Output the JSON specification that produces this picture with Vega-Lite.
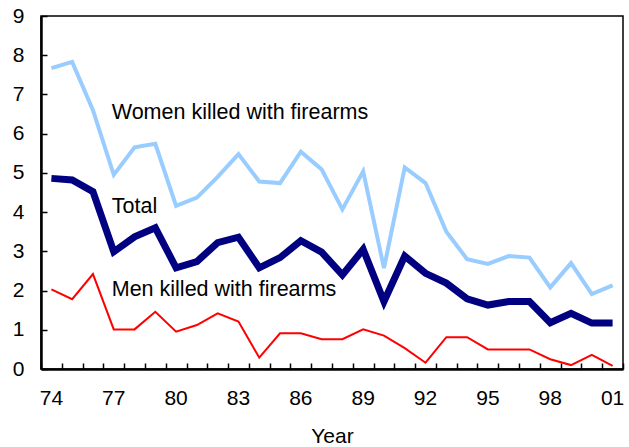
{
  "$schema": "https://vega.github.io/schema/vega-lite/v6.json",
  "autosize": "none",
  "width": 582,
  "height": 353,
  "padding": {"left": 41, "top": 16, "right": 6, "bottom": 78},
  "background": "white",
  "config": {
    "font": "Liberation Sans",
    "view": {"stroke": "black", "strokeWidth": 1.5},
    "axis": {"grid": false, "labelFont": "Liberation Sans", "titleFont": "Liberation Sans", "labelColor": "black", "titleColor": "black", "domainColor": "black", "tickColor": "black", "labelFontSize": 21, "titleFontSize": 21, "titleFontWeight": "normal"}
  },
  "datasets": {
    "lines": [
      {"year": 1974, "women": 7.67, "total": 4.86, "men": 2.03},
      {"year": 1975, "women": 7.83, "total": 4.82, "men": 1.78},
      {"year": 1976, "women": 6.6, "total": 4.52, "men": 2.42},
      {"year": 1977, "women": 4.95, "total": 2.99, "men": 1.01},
      {"year": 1978, "women": 5.65, "total": 3.37, "men": 1.01},
      {"year": 1979, "women": 5.74, "total": 3.6, "men": 1.46},
      {"year": 1980, "women": 4.16, "total": 2.58, "men": 0.95},
      {"year": 1981, "women": 4.37, "total": 2.74, "men": 1.12},
      {"year": 1982, "women": 4.9, "total": 3.22, "men": 1.42},
      {"year": 1983, "women": 5.48, "total": 3.36, "men": 1.21},
      {"year": 1984, "women": 4.78, "total": 2.58, "men": 0.29},
      {"year": 1985, "women": 4.74, "total": 2.84, "men": 0.91},
      {"year": 1986, "women": 5.54, "total": 3.27, "men": 0.91},
      {"year": 1987, "women": 5.09, "total": 2.98, "men": 0.76},
      {"year": 1988, "women": 4.07, "total": 2.4, "men": 0.76},
      {"year": 1989, "women": 5.04, "total": 3.05, "men": 1.01},
      {"year": 1990, "women": 2.57, "total": 1.72, "men": 0.85},
      {"year": 1991, "women": 5.14, "total": 2.88, "men": 0.53},
      {"year": 1992, "women": 4.74, "total": 2.44, "men": 0.16},
      {"year": 1993, "women": 3.5, "total": 2.19, "men": 0.81},
      {"year": 1994, "women": 2.8, "total": 1.79, "men": 0.81},
      {"year": 1995, "women": 2.68, "total": 1.63, "men": 0.5},
      {"year": 1996, "women": 2.88, "total": 1.72, "men": 0.5},
      {"year": 1997, "women": 2.84, "total": 1.72, "men": 0.5},
      {"year": 1998, "women": 2.08, "total": 1.18, "men": 0.25},
      {"year": 1999, "women": 2.7, "total": 1.42, "men": 0.1},
      {"year": 2000, "women": 1.91, "total": 1.17, "men": 0.36},
      {"year": 2001, "women": 2.13, "total": 1.17, "men": 0.08}
    ],
    "labels": [
      {"year": 1977, "v": 6.53, "text": "Women killed with firearms"},
      {"year": 1977, "v": 4.13, "text": "Total"},
      {"year": 1977, "v": 2.02, "text": "Men killed with firearms"}
    ]
  },
  "resolve": {"axis": {"x": "independent", "y": "independent"}},
  "layer": [
    {
      "data": {"name": "lines"},
      "mark": {"type": "line", "color": "#99CCFF", "strokeWidth": 4},
      "encoding": {
        "x": {
          "field": "year", "type": "ordinal",
          "scale": {"type": "band", "paddingInner": 0, "paddingOuter": 0},
          "axis": {"orient": "bottom", "title": null, "labels": false, "tickBand": "extent", "tickSize": -6, "tickWidth": 1.5, "domainWidth": 2.5}
        },
        "y": {"field": "women", "type": "quantitative", "scale": {"domain": [0, 9], "nice": false},
          "axis": {"orient": "left", "title": null, "labels": false, "values": [0,1,2,3,4,5,6,7,8,9], "tickSize": -6, "tickWidth": 1.5, "domainWidth": 2.5}}
      }
    },
    {
      "data": {"name": "lines"},
      "mark": {"type": "line", "color": "#FF0000", "strokeWidth": 2},
      "encoding": {
        "x": {
          "field": "year", "type": "ordinal",
          "axis": {"orient": "bottom", "title": "Year", "titlePadding": 17, "ticks": false, "domain": false, "labelAngle": 0, "labelOverlap": false, "labelPadding": 18,
            "labelExpr": "datum.value % 3 == 0 ? slice(toString(datum.value), 2) : ''"}
        },
        "y": {"field": "men", "type": "quantitative",
          "axis": {"orient": "left", "title": null, "ticks": false, "domain": false, "labelOverlap": false, "values": [0,1,2,3,4,5,6,7,8,9], "labelPadding": 17}}
      }
    },
    {
      "data": {"name": "lines"},
      "mark": {"type": "line", "color": "#000080", "strokeWidth": 7},
      "encoding": {
        "x": {"field": "year", "type": "ordinal", "axis": null},
        "y": {"field": "total", "type": "quantitative", "axis": null}
      }
    },
    {
      "data": {"name": "labels"},
      "mark": {"type": "text", "align": "left", "baseline": "middle", "fontSize": 21.5, "color": "black", "dx": -2},
      "encoding": {
        "x": {"field": "year", "type": "ordinal", "axis": null},
        "y": {"field": "v", "type": "quantitative", "axis": null},
        "text": {"field": "text"}
      }
    }
  ]
}
